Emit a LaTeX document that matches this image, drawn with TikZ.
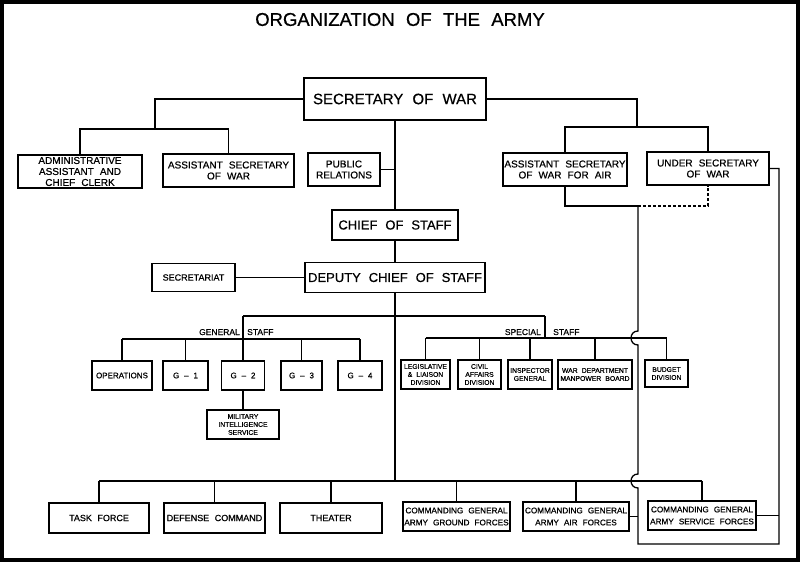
\documentclass[tikz,border=0pt]{standalone}
\usepackage{fontspec}
\setmainfont{Liberation Sans}[WordSpace=2.2, FakeBold=0.6]
\usepackage{tikz}
\tikzstyle{frame} = [draw=black, line width=4pt]
\tikzstyle{box} = [rectangle, draw=black, line width=1.3pt, inner sep=1pt, align=center, text centered]
\tikzstyle{topbox} = [box, font=\fontsize{15}{17}\selectfont]
\tikzstyle{staffbox} = [box, font=\fontsize{13}{15}\selectfont]
\tikzstyle{deskbox} = [box, font=\fontsize{10}{11}\selectfont]
\tikzstyle{unitbox} = [box, font=\fontsize{8}{9.5}\selectfont]
\tikzstyle{tinybox} = [box, font=\fontsize{6.8}{8}\selectfont]
\tikzstyle{cmdbox} = [box, font=\fontsize{8.2}{12}\selectfont]
\tikzstyle{barlabel} = [inner sep=0pt, font=\fontsize{8.5}{10}\selectfont]
\tikzstyle{link} = [line width=1.3pt]

\begin{document}
\begin{tikzpicture}[x=1pt, y=-1pt]
                  \useasboundingbox (0,0) rectangle (800,562);
                  \draw [frame] (2,2) rectangle (798,560);
                  \node (title) [font=\fontsize{18.5}{20}\selectfont] at (400,19.5) {ORGANIZATION OF THE ARMY};

                  \node (sow) [topbox, minimum width=182, minimum height=42] at (395,99) {SECRETARY OF WAR};
                  \node (admin) [deskbox, minimum width=124, minimum height=33] at (80,171.5) {ADMINISTRATIVE\\ASSISTANT AND\\CHIEF CLERK};
                  \node (asw) [deskbox, minimum width=131, minimum height=33] at (228.5,170.5) {ASSISTANT SECRETARY\\OF WAR};
                  \node (pr) [deskbox, minimum width=72, minimum height=33] at (344,169.5) {PUBLIC\\RELATIONS};
                  \node (aswa) [deskbox, minimum width=124, minimum height=33] at (565,169.5) {ASSISTANT SECRETARY\\OF WAR FOR AIR};
                  \node (usw) [deskbox, minimum width=122, minimum height=33] at (708,168.5) {UNDER SECRETARY\\OF WAR};
                  \node (cos) [staffbox, minimum width=126, minimum height=30] at (395,225) {CHIEF OF STAFF};
                  \node (dcos) [staffbox, minimum width=180, minimum height=30] at (395,277.5) {DEPUTY CHIEF OF STAFF};
                  \node (sect) [deskbox, font=\fontsize{9}{11}\selectfont, minimum width=83, minimum height=28] at (193.5,277.5) {SECRETARIAT};

                  \node (ops) [unitbox, minimum width=60, minimum height=29] at (122,375.5) {OPERATIONS};
                  \node (g1) [unitbox, minimum width=45, minimum height=29] at (185.5,375.5) {G -- 1};
                  \node (g2) [unitbox, minimum width=43, minimum height=29] at (243,375.5) {G -- 2};
                  \node (g3) [unitbox, minimum width=41, minimum height=29] at (301.5,375.5) {G -- 3};
                  \node (g4) [unitbox, minimum width=44, minimum height=29] at (360,375.5) {G -- 4};
                  \node (mis) [tinybox, minimum width=72, minimum height=29] at (243,424.5) {MILITARY\\INTELLIGENCE\\SERVICE};

                  \node (leg) [tinybox, minimum width=49, minimum height=29] at (425.5,374.5) {LEGISLATIVE\\\& LIAISON\\DIVISION};
                  \node (civ) [tinybox, minimum width=43, minimum height=29] at (479.5,374.5) {CIVIL\\AFFAIRS\\DIVISION};
                  \node (insp) [tinybox, minimum width=44, minimum height=29] at (530,374.5) {INSPECTOR\\GENERAL};
                  \node (wdmb) [tinybox, minimum width=74, minimum height=29] at (595,374.5) {WAR DEPARTMENT\\MANPOWER BOARD};
                  \node (bud) [tinybox, minimum width=43, minimum height=27] at (666.5,373.5) {BUDGET\\DIVISION};

                  \node (genl) [barlabel, anchor=base east] at (240,335) {GENERAL};
                  \node (genr) [barlabel, anchor=base west] at (247,335) {STAFF};
                  \node (specl) [barlabel, anchor=base east] at (541,335) {SPECIAL};
                  \node (specr) [barlabel, anchor=base west] at (553,335) {STAFF};

                  \node (tf) [unitbox, font=\fontsize{9}{11}\selectfont, minimum width=100, minimum height=30] at (99,518) {TASK FORCE};
                  \node (dc) [unitbox, font=\fontsize{9}{11}\selectfont, minimum width=101, minimum height=30] at (214.5,518) {DEFENSE COMMAND};
                  \node (th) [unitbox, font=\fontsize{9}{11}\selectfont, minimum width=102, minimum height=30] at (331,518) {THEATER};
                  \node (agf) [cmdbox, minimum width=107, minimum height=29] at (456.5,516.5) {COMMANDING GENERAL\\ARMY GROUND FORCES};
                  \node (aaf) [cmdbox, minimum width=106, minimum height=29] at (576,516.5) {COMMANDING GENERAL\\ARMY AIR FORCES};
                  \node (asf) [cmdbox, minimum width=108, minimum height=29] at (702,515.5) {COMMANDING GENERAL\\ARMY SERVICE FORCES};

                  \coordinate (jl) at (155,129);
                  \coordinate (jr) at (637,127);
                  \coordinate (jair) at (638,206);
                  \coordinate (jsw) at (638,544);
                  \coordinate (jse) at (779,544);
                  \coordinate (jgen) at (243,316);
                  \coordinate (jspec) at (545,316);
                  \coordinate (gbar) at (243,339);
                  \coordinate (sbar) at (545,338);
                  \coordinate (bbar) at (395,481);

                  \draw [link] (sow.west) -| (jl);
                  \draw [link] (admin.north) |- (jl) -| (asw.north);
                  \draw [link] (sow.east) -| (jr);
                  \draw [link] (aswa.north) |- (jr) -| (usw.north);
                  \draw [link] (pr.east) -- (pr.east -| sow.south);
                  \draw [link] (sow.south) -- (cos.north);
                  \draw [link] (cos.south) -- (dcos.north);
                  \draw [link] (sect) -- (dcos);
                  \draw [link] (dcos.south) -- (bbar);

                  \draw [link] (aswa.south) |- (jair);
                  \draw [link, dash pattern=on 3pt off 2pt] (jair) -| (usw.south);
                  \draw [link] (jair) -- ++(0,125) .. controls +(-9.3,0) and +(-9.3,0) .. ++(0,14)
                        -- ++(0,129) .. controls +(-9.3,0) and +(-9.3,0) .. ++(0,14) -- (jsw) -- (jse) |- (usw.east);

                  \draw [link] (jgen) -- (jspec);
                  \draw [link] (jgen) -- (g2.north);
                  \draw [link] (ops.north |- gbar) -- (g4.north |- gbar);
                  \draw [link] (ops.north) -- (ops.north |- gbar);
                  \draw [link] (g1.north) -- (g1.north |- gbar);
                  \draw [link] (g3.north) -- (g3.north |- gbar);
                  \draw [link] (g4.north) -- (g4.north |- gbar);
                  \draw [link] (g2) -- (mis);

                  \draw [link] (jspec) -- (sbar);
                  \draw [link] (leg.north |- sbar) -- (bud.north |- sbar);
                  \draw [link] (leg.north) -- (leg.north |- sbar);
                  \draw [link] (civ.north) -- (civ.north |- sbar);
                  \draw [link] (insp.north) -- (insp.north |- sbar);
                  \draw [link] (wdmb.north) -- (wdmb.north |- sbar);
                  \draw [link] (bud.north) -- (bud.north |- sbar);

                  \draw [link] (tf.north |- bbar) -- (asf.north |- bbar);
                  \draw [link] (tf.north) -- (tf.north |- bbar);
                  \draw [link] (dc.north) -- (dc.north |- bbar);
                  \draw [link] (th.north) -- (th.north |- bbar);
                  \draw [link] (agf.north) -- (agf.north |- bbar);
                  \draw [link] (aaf.north) -- (aaf.north |- bbar);
                  \draw [link] (asf.north) -- (asf.north |- bbar);
                  \draw [link] (aaf.east) -- (aaf.east -| jsw);
                  \draw [link] (asf.east) -- (asf.east -| jse);
              \end{tikzpicture}
\end{document}
